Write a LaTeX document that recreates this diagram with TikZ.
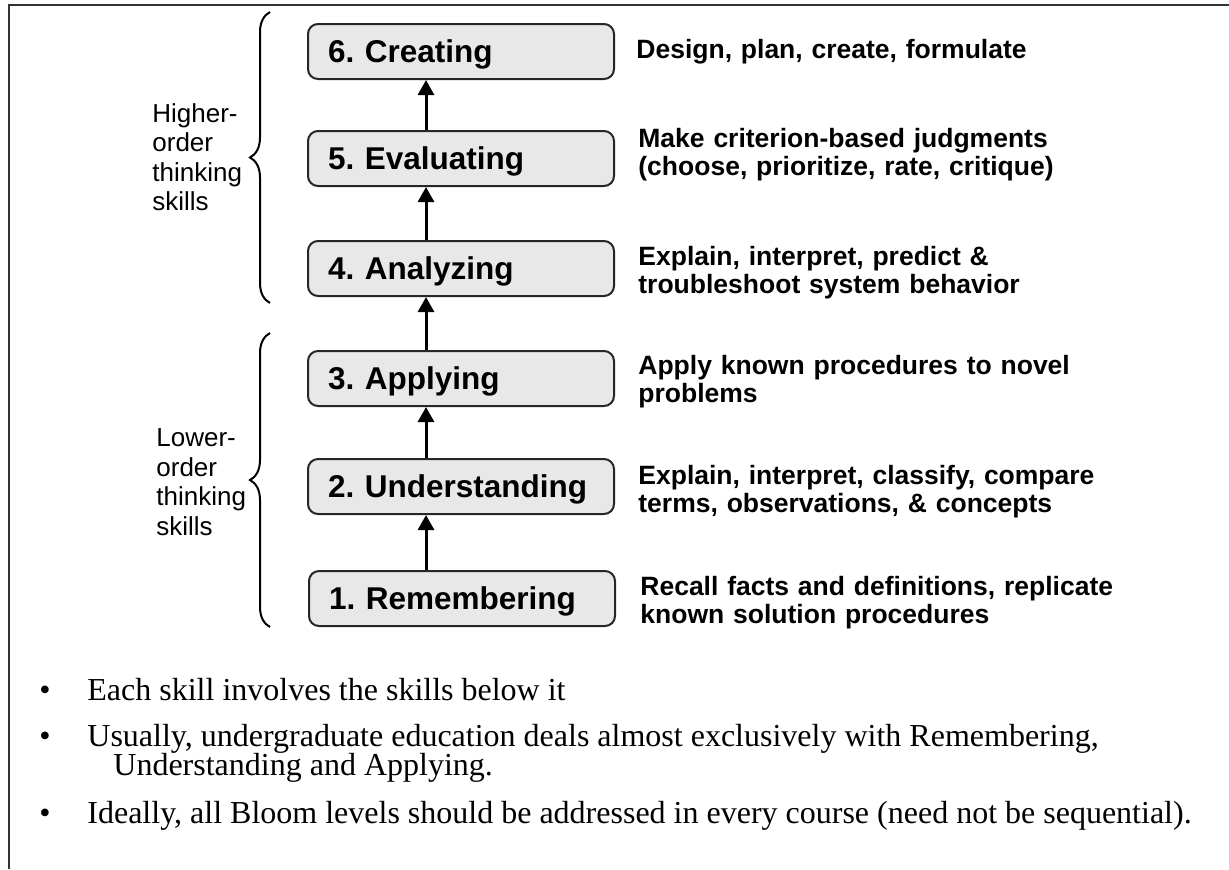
\documentclass[tikz,border=0pt]{standalone}
\usepackage{fontspec}
\setmainfont{Liberation Serif}
\setsansfont{Liberation Sans}
\usetikzlibrary{arrows.meta,decorations.pathreplacing}
\frenchspacing
\begin{document}
\begin{tikzpicture}[x=0.5pt,y=-0.5pt,
  stage/.style={draw=black!85, line width=1pt, fill=black!9, rounded corners=5pt,
    minimum width=153pt, minimum height=27.5pt, text width=133pt,
    inner xsep=10pt, inner ysep=0pt, align=left, anchor=north west,
    font=\sffamily\bfseries\fontsize{15.75}{18}\selectfont,
    text height=11.3pt, text depth=0pt},
  desc/.style={anchor=base west, inner sep=0pt, text width=300pt, align=left,
    font=\sffamily\bfseries\fontsize{13.25}{14}\selectfont},
  side/.style={anchor=west, inner sep=0pt, align=left,
    font=\sffamily\fontsize{13}{14.75}\selectfont},
  climb/.style={-{Triangle[width=8pt,length=7.5pt]}, line width=1.5pt},
  grouping/.style={decorate, decoration={brace, amplitude=10pt}, line width=1pt},
  bullettext/.style={anchor=base west, inner sep=0pt, align=left,
    font=\fontsize{16}{14.5}\selectfont},
  bulletmark/.style={anchor=base, inner sep=0pt, font=\fontsize{16}{18}\selectfont}
]
\useasboundingbox (0,0) rectangle (1229,869);

% outer frame (top and left edges)
\draw[line width=1pt, black!80] (1229,5) -- (9,5) -- (9,869);

% Bloom levels
\node[stage] (b6) at (307,23)  {6. Creating};
\node[stage] (b5) at (307,130) {5. Evaluating};
\node[stage] (b4) at (307,240) {4. Analyzing};
\node[stage] (b3) at (307,350) {3. Applying};
\node[stage] (b2) at (307,458) {2. Understanding};
\node[stage] (b1) at (308,570) {1. Remembering};

% arrows between levels
\coordinate (ax) at (426,0);
\draw[climb] (b1.north -| ax) -- (b2.south -| ax);
\draw[climb] (b2.north -| ax) -- (b3.south -| ax);
\draw[climb] (b3.north -| ax) -- (b4.south -| ax);
\draw[climb] (b4.north -| ax) -- (b5.south -| ax);
\draw[climb] (b5.north -| ax) -- (b6.south -| ax);

% descriptions
\node[desc] (d6) at (636,58)  {Design, plan, create, formulate};
\node[desc] (d5) at (638,147) {Make criterion-based judgments\\(choose, prioritize, rate, critique)};
\node[desc] (d4) at (638,265) {Explain, interpret, predict \&\\troubleshoot system behavior};
\node[desc] (d3) at (638,374) {Apply known procedures to novel\\problems};
\node[desc] (d2) at (638,484) {Explain, interpret, classify, compare\\terms, observations, \& concepts};
\node[desc] (d1) at (640,595) {Recall facts and definitions, replicate\\known solution procedures};

% braces grouping the levels
\coordinate (hi-bot) at (270,303);
\coordinate (hi-top) at (270,12);
\coordinate (lo-bot) at (270,627);
\coordinate (lo-top) at (270,333);
\draw[grouping] (hi-bot) -- (hi-top);
\draw[grouping] (lo-bot) -- (lo-top);
\node[side] (hot) at (152,157) {Higher-\\order\\thinking\\skills};
\node[side] (lot) at (156,482) {Lower-\\order\\thinking\\skills};

% notes
\node[bulletmark] (m1) at (45,700) {•};
\node[bullettext] (n1) at (87,700) {Each skill involves the skills below it};
\node[bulletmark] (m2) at (45,746) {•};
\node[bullettext] (n2) at (87,746) {Usually, undergraduate education deals almost exclusively with Remembering,};
\node[bullettext] (n2b) at (113,775) {Understanding and Applying.};
\node[bulletmark] (m3) at (45,823) {•};
\node[bullettext] (n3) at (87,823) {Ideally, all Bloom levels should be addressed in every course (need not be sequential).};
\end{tikzpicture}
\end{document}
